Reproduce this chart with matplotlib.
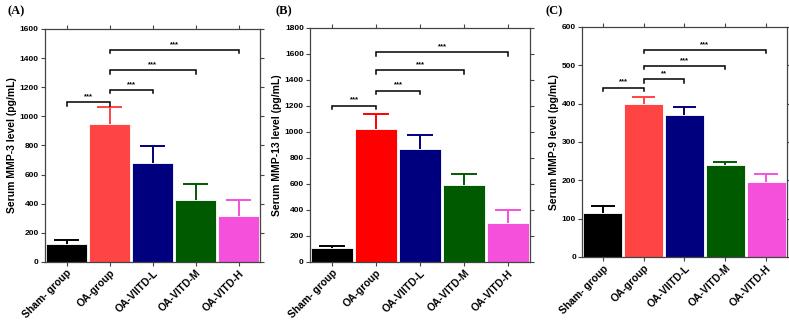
import matplotlib.pyplot as plt
import numpy as np

plt.rcParams['font.family'] = ['Liberation Sans', 'DejaVu Sans']

groups = ['Sham- group', 'OA-group', 'OA-VIITD-L', 'OA-VITD-M', 'OA-VITD-H']

mmp3 = [124, 948, 680, 428, 316]
mmp3_err = [25, 114, 119, 108, 107]
mmp13 = [110, 1023, 867, 592, 300]
mmp13_err = [14, 115, 112, 87, 100]
mmp9 = [115, 400, 370, 239, 196]
mmp9_err = [19, 18, 20, 10, 20]

# brackets: (from, to, height, label)
sig3 = [(0, 1, 1096, '***'), (1, 2, 1183, '***'), (1, 3, 1316, '***'), (1, 4, 1458, '***')]
sig13 = [(0, 1, 1203, '***'), (1, 2, 1318, '***'), (1, 3, 1474, '***'), (1, 4, 1613, '***')]
sig9 = [(0, 1, 442, '***'), (1, 2, 463, '**'), (1, 3, 499, '***'), (1, 4, 541, '***')]

colors_a = ['#000000', '#FF4444', '#00007F', '#005A00', '#F550DC']
colors_b = ['#000000', '#FF0000', '#00007F', '#005A00', '#F550DC']

fig = plt.figure(figsize=(7.89, 3.29), dpi=100)


def panel(rect, vals, errs, sigs, colors, ymax, ystep, ylabel, tag, tagx):
    ax = fig.add_axes(rect)
    x = np.arange(len(groups))
    ax.bar(x, vals, width=0.95, color=colors, edgecolor='white', linewidth=0.6, zorder=2)
    # upper-only error bars
    tops = np.array(vals) + np.array(errs)
    ax.vlines(x, vals, tops, colors=colors, lw=1.4, zorder=1)
    ax.hlines(tops, x - 0.29, x + 0.29, colors=colors, lw=1.4, zorder=1)
    drop = ymax * 0.015
    for a, b, h, lab in sigs:
        ax.plot([a, a, b, b], [h - drop, h, h, h - drop], color='black', lw=1.1,
                solid_joinstyle='miter')
        ax.text((a + b) / 2, h + ymax * 0.008, lab, ha='center', va='bottom',
                fontsize=5.5, fontweight='bold')
    ax.set_xlim(-0.5, 4.5)
    ax.set_ylim(0, ymax)
    ax.set_yticks(np.arange(0, ymax + 1, ystep))
    ax.set_xticks(x)
    ax.set_xticklabels(groups, rotation=45, ha='right', rotation_mode='anchor',
                       fontsize=7.5, fontweight='bold')
    for t in ax.get_yticklabels():
        t.set_fontsize(6)
        t.set_fontweight('bold')
    ax.tick_params(top=True, right=True, direction='out', length=3, width=0.8,
                   color='#444444', pad=1.5)
    ax.tick_params(axis='x', labeltop=False)
    for s in ax.spines.values():
        s.set_color('#444444')
        s.set_linewidth(0.9)
    ax.set_ylabel(ylabel, fontsize=7.5, fontweight='bold', labelpad=2)
    fig.text(tagx, 0.985, tag, fontsize=9, fontweight='bold', family='Liberation Serif',
             ha='left', va='top')
    return ax


panel([0.057, 0.204, 0.273, 0.708], mmp3, mmp3_err, sig3, colors_a, 1600, 200,
      'Serum MMP-3 level (pg/mL)', '(A)', 0.010)
panel([0.393, 0.204, 0.279, 0.711], mmp13, mmp13_err, sig13, colors_b, 1800, 200,
      'Serum MMP-13 level (pg/mL)', '(B)', 0.349)
panel([0.738, 0.219, 0.259, 0.699], mmp9, mmp9_err, sig9, colors_a, 600, 100,
      'Serum MMP-9 level (pg/mL)', '(C)', 0.691)

fig.savefig('out.png', dpi=100)
